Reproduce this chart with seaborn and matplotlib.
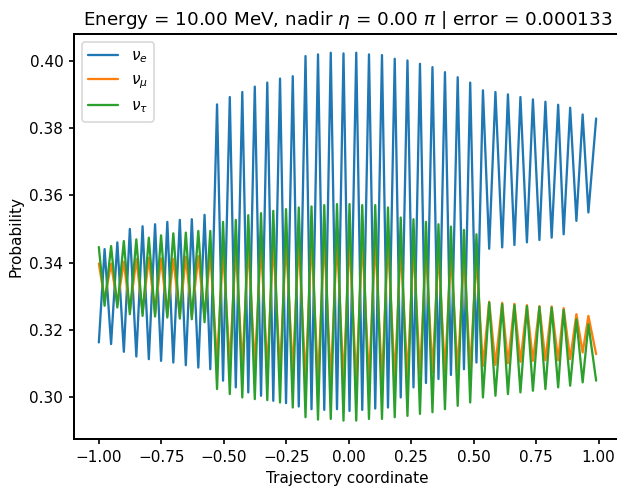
import pandas as pd
import matplotlib
matplotlib.use("Agg")
import matplotlib.pyplot as plt
import seaborn as sns

# turning points of the oscillation along the trajectory
traj = [-1.000, -0.977, -0.951, -0.926, -0.900, -0.876, -0.850, -0.825, -0.800, -0.775,
        -0.751, -0.726, -0.702, -0.676, -0.652, -0.628, -0.602, -0.577, -0.554, -0.527,
        -0.503, -0.476, -0.452, -0.426, -0.402, -0.376, -0.351, -0.326, -0.302, -0.275,
        -0.251, -0.224, -0.200, -0.173, -0.149, -0.123, -0.098, -0.072, -0.047, -0.021,
        0.003, 0.030, 0.054, 0.081, 0.106, 0.133, 0.157, 0.184, 0.208, 0.235,
        0.259, 0.285, 0.309, 0.335, 0.359, 0.385, 0.409, 0.436, 0.461, 0.486,
        0.511, 0.537, 0.562, 0.587, 0.614, 0.637, 0.663, 0.687, 0.713, 0.737,
        0.763, 0.787, 0.812, 0.838, 0.860, 0.886, 0.911, 0.936, 0.959, 0.990]

p_e = [0.3162, 0.3440, 0.3157, 0.3460, 0.3134, 0.3500, 0.3120, 0.3508, 0.3112, 0.3514,
       0.3107, 0.3521, 0.3102, 0.3527, 0.3094, 0.3529, 0.3087, 0.3542, 0.3082, 0.3871,
       0.3048, 0.3893, 0.3028, 0.3908, 0.3013, 0.3924, 0.3003, 0.3936, 0.2988, 0.3948,
       0.2981, 0.3955, 0.2971, 0.4015, 0.2963, 0.4020, 0.2961, 0.4025, 0.2963, 0.4023,
       0.2958, 0.4025, 0.2961, 0.4020, 0.2965, 0.4018, 0.2968, 0.4007, 0.2998, 0.4002,
       0.3028, 0.3992, 0.3041, 0.3982, 0.3053, 0.3967, 0.3065, 0.3952, 0.3082, 0.3936,
       0.3102, 0.3913, 0.3441, 0.3908, 0.3445, 0.3901, 0.3452, 0.3893, 0.3460, 0.3886,
       0.3467, 0.3879, 0.3474, 0.3870, 0.3484, 0.3861, 0.3524, 0.3841, 0.3549, 0.3829]

p_mu = [0.3397, 0.3289, 0.3396, 0.3276, 0.3402, 0.3255, 0.3410, 0.3251, 0.3414, 0.3247,
        0.3412, 0.3243, 0.3411, 0.3240, 0.3417, 0.3240, 0.3419, 0.3236, 0.3428, 0.3102,
        0.3438, 0.3097, 0.3445, 0.3092, 0.3452, 0.3090, 0.3457, 0.3077, 0.3461, 0.3077,
        0.3466, 0.3073, 0.3467, 0.3048, 0.3471, 0.3048, 0.3472, 0.3048, 0.3472, 0.3045,
        0.3471, 0.3043, 0.3471, 0.3048, 0.3467, 0.3048, 0.3467, 0.3053, 0.3448, 0.3058,
        0.3448, 0.3068, 0.3440, 0.3073, 0.3435, 0.3073, 0.3428, 0.3077, 0.3422, 0.3082,
        0.3414, 0.3092, 0.3283, 0.3095, 0.3280, 0.3100, 0.3277, 0.3104, 0.3273, 0.3107,
        0.3270, 0.3109, 0.3269, 0.3109, 0.3264, 0.3112, 0.3246, 0.3132, 0.3241, 0.3127]

p_tau = [0.3446, 0.3271, 0.3449, 0.3266, 0.3464, 0.3246, 0.3469, 0.3241, 0.3474, 0.3239,
         0.3481, 0.3236, 0.3487, 0.3233, 0.3489, 0.3231, 0.3494, 0.3222, 0.3494, 0.3023,
         0.3521, 0.3008, 0.3527, 0.2998, 0.3541, 0.2993, 0.3547, 0.2990, 0.3554, 0.2983,
         0.3559, 0.2968, 0.3564, 0.2939, 0.3567, 0.2932, 0.3571, 0.2934, 0.3574, 0.2929,
         0.3574, 0.2929, 0.3571, 0.2934, 0.3571, 0.2934, 0.3564, 0.2939, 0.3534, 0.2943,
         0.3529, 0.2949, 0.3521, 0.2954, 0.3514, 0.2963, 0.3507, 0.2973, 0.3497, 0.2983,
         0.3484, 0.2998, 0.3281, 0.3003, 0.3276, 0.3008, 0.3273, 0.3013, 0.3270, 0.3018,
         0.3268, 0.3023, 0.3266, 0.3028, 0.3259, 0.3033, 0.3231, 0.3043, 0.3216, 0.3048]

flavours = [r"$\nu_e$", r"$\nu_\mu$", r"$\nu_\tau$"]

df = pd.concat([
    pd.DataFrame({"x": traj, "p": vals, "flavour": name})
    for name, vals in zip(flavours, [p_e, p_mu, p_tau])
])

sns.set_style("ticks", {"axes.edgecolor": "black", "text.color": "black",
                        "xtick.color": "black", "ytick.color": "black",
                        "axes.labelcolor": "black"})
plt.rcParams["font.family"] = ["DejaVu Sans"]

fig = plt.figure(figsize=(617 / 110, 488 / 110), dpi=110)
ax = fig.add_axes([0.1199, 0.1004, 0.8866, 0.8293])

sns.lineplot(data=df, x="x", y="p", hue="flavour", palette=["#1f77b4", "#ff7f0e", "#2ca02c"],
             estimator=None, linewidth=1.5, ax=ax)

ax.set_xticks([-1.0, -0.75, -0.5, -0.25, 0.0, 0.25, 0.5, 0.75, 1.0])
ax.tick_params(direction="out", length=3.5, width=1.1, labelsize=10)
for s in ax.spines.values():
    s.set_linewidth(1.3)

ax.set_xlabel("Trajectory coordinate", fontsize=10)
ax.set_ylabel("Probability", fontsize=10)
ax.set_title(r"Energy = 10.00 MeV, nadir $\eta$ = 0.00 $\pi$ | error = 0.000133", fontsize=12)
ax.legend(loc="upper left", fontsize=10)

fig.savefig("out.png", dpi=110)
